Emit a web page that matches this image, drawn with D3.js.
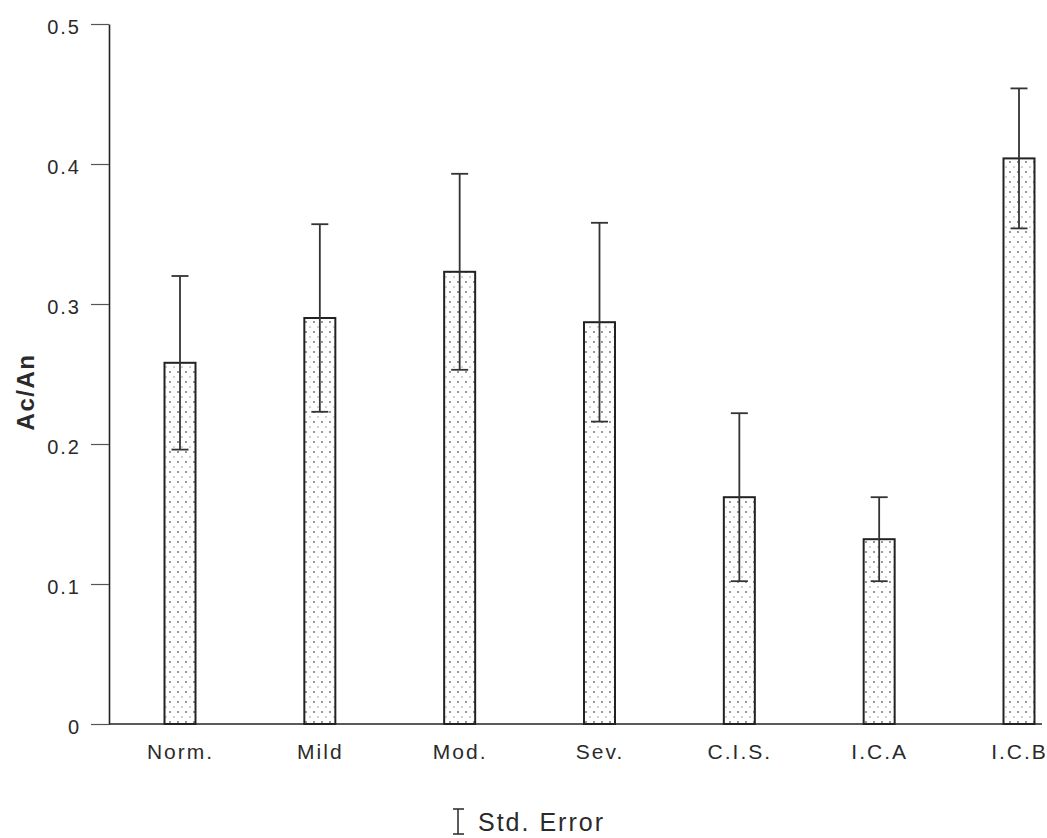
<!DOCTYPE html>
<html>
<head>
<meta charset="utf-8">
<script src="https://cdn.jsdelivr.net/npm/d3@7"></script>
<style>
  body { margin: 0; background: #fff; }
  text { font-family: "Liberation Sans", Arial, sans-serif; fill: #2a2a2a; }
</style>
</head>
<body>
<div id="chart"></div>
<script>
// chart data
const groups = ["Norm.", "Mild", "Mod.", "Sev.", "C.I.S.", "I.C.A", "I.C.B"];
const means = [0.258, 0.290, 0.323, 0.287, 0.162, 0.132, 0.404];
const stdErr = [0.062, 0.067, 0.070, 0.071, 0.060, 0.030, 0.050];
const yTicks = [0, 0.1, 0.2, 0.3, 0.4, 0.5];

const width = 1047;
const height = 838;
const margin = {left: 109, right: 5, top: 24, bottom: 114};
const barWidth = 31;
const capWidth = 17;

const svg = d3.select("#chart")
  .append("svg")
  .attr("width", width)
  .attr("height", height);

// stipple fill for the bars
const pat = svg.append("defs").append("pattern")
  .attr("id", "dots")
  .attr("patternUnits", "userSpaceOnUse")
  .attr("width", 8)
  .attr("height", 10);
pat.append("circle").attr("cx", 2).attr("cy", 2).attr("r", 0.9).attr("fill", "#666");
pat.append("circle").attr("cx", 6).attr("cy", 7).attr("r", 0.8).attr("fill", "#999");

// scales
const x = d3.scalePoint()
  .domain(groups)
  .range([180, 1019]);

const y = d3.scaleLinear()
  .domain([0, 0.5])
  .range([height - margin.bottom, margin.top]);

// y axis
const yAxis = svg.append("g")
  .attr("transform", `translate(${margin.left},0)`)
  .call(d3.axisLeft(y)
    .tickValues(yTicks)
    .tickSize(18)
    .tickSizeOuter(0)
    .tickPadding(10)
    .tickFormat(d => d === 0 ? "0" : d3.format(".1f")(d)));
yAxis.select(".domain").attr("stroke", "#222").attr("stroke-width", 1.6);
yAxis.selectAll(".tick line").attr("stroke", "#555").attr("stroke-width", 1.2);
yAxis.selectAll(".tick text")
  .attr("font-size", 20)
  .attr("letter-spacing", 2)
  .attr("fill", "#2a2a2a")
  .attr("dy", "0.45em");

// x baseline
svg.append("line")
  .attr("x1", margin.left)
  .attr("x2", 1042)
  .attr("y1", y(0))
  .attr("y2", y(0))
  .attr("stroke", "#222")
  .attr("stroke-width", 1.6);

// x labels
const xAxis = svg.append("g")
  .attr("transform", `translate(0,${y(0)})`)
  .call(d3.axisBottom(x).tickSize(0).tickPadding(20));
xAxis.select(".domain").remove();
xAxis.selectAll(".tick text")
  .attr("font-size", 21)
  .attr("letter-spacing", 2)
  .attr("fill", "#2a2a2a");

// bars
svg.selectAll(".bar")
  .data(groups)
  .enter()
  .append("rect")
    .attr("class", "bar")
    .attr("x", d => x(d) - barWidth / 2)
    .attr("y", (d, i) => y(means[i]))
    .attr("width", barWidth)
    .attr("height", (d, i) => y(0) - y(means[i]))
    .attr("fill", "url(#dots)")
    .attr("stroke", "#222")
    .attr("stroke-width", 2);

// error bars
const err = svg.selectAll(".err")
  .data(groups)
  .enter()
  .append("g")
    .attr("class", "err")
    .attr("stroke", "#333")
    .attr("stroke-width", 1.8);

err.append("line")
  .attr("x1", d => x(d))
  .attr("x2", d => x(d))
  .attr("y1", (d, i) => y(means[i] + stdErr[i]))
  .attr("y2", (d, i) => y(means[i] - stdErr[i]));

err.append("line")
  .attr("x1", d => x(d) - capWidth / 2)
  .attr("x2", d => x(d) + capWidth / 2)
  .attr("y1", (d, i) => y(means[i] + stdErr[i]))
  .attr("y2", (d, i) => y(means[i] + stdErr[i]));

err.append("line")
  .attr("x1", d => x(d) - capWidth / 2)
  .attr("x2", d => x(d) + capWidth / 2)
  .attr("y1", (d, i) => y(means[i] - stdErr[i]))
  .attr("y2", (d, i) => y(means[i] - stdErr[i]));

// y label
svg.append("text")
  .attr("transform", `translate(34,${(y(0) + y(0.5)) / 2 + 18}) rotate(-90)`)
  .attr("text-anchor", "middle")
  .attr("font-size", 24)
  .attr("font-weight", "bold")
  .attr("letter-spacing", 1.5)
  .text("Ac/An");

// legend
const leg = svg.append("g").attr("stroke", "#333").attr("stroke-width", 1.6);
leg.append("line").attr("x1", 458).attr("x2", 458).attr("y1", 809).attr("y2", 834);
leg.append("line").attr("x1", 453).attr("x2", 464).attr("y1", 809).attr("y2", 809);
leg.append("line").attr("x1", 453).attr("x2", 464).attr("y1", 834).attr("y2", 834);

svg.append("text")
  .attr("x", 478)
  .attr("y", 831)
  .attr("font-size", 25)
  .attr("letter-spacing", 2)
  .text("Std. Error");
</script>
</body>
</html>
